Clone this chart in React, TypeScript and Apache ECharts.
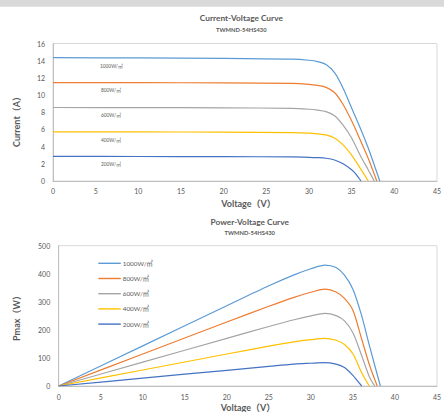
import React, { useEffect, useRef } from "react";
import * as echarts from "echarts";

// ---------- data ----------
const seriesNames = ["1000W/㎡", "800W/㎡", "600W/㎡", "400W/㎡", "200W/㎡"];
const seriesColors = ["#5B9BD5", "#ED7D31", "#A5A5A5", "#FFC000", "#4472C4"];

// Current-Voltage curves
const ivVoltage1000 = [0, 10, 20, 28, 30, 31, 32, 33, 34, 35, 36, 37, 38.3];
const ivCurrent1000 = [14.35, 14.32, 14.28, 14.18, 14.05, 13.9, 13.55, 12.6, 10.8, 8.5, 6.2, 3.7, 0];
const ivVoltage800 = [0, 10, 20, 28, 30, 31, 32, 33, 34, 35, 36, 37, 37.95];
const ivCurrent800 = [11.45, 11.44, 11.42, 11.35, 11.25, 11.12, 10.9, 10.3, 8.9, 7.0, 4.8, 2.5, 0];
const ivVoltage600 = [0, 10, 20, 28, 30, 31, 32, 33, 34, 35, 36, 37, 37.65];
const ivCurrent600 = [8.55, 8.54, 8.52, 8.45, 8.35, 8.25, 8.08, 7.6, 6.5, 5.0, 3.0, 1.2, 0];
const ivVoltage400 = [0, 10, 20, 28, 30, 31, 32, 33, 34, 35, 36, 36.96];
const ivCurrent400 = [5.72, 5.71, 5.69, 5.63, 5.56, 5.48, 5.36, 5.0, 4.2, 3.0, 1.5, 0];
const ivVoltage200 = [0, 10, 20, 28, 30, 31, 32, 33, 34, 35, 35.5, 36.1];
const ivCurrent200 = [2.86, 2.85, 2.84, 2.8, 2.76, 2.72, 2.65, 2.45, 2.0, 1.3, 0.8, 0];

// Power-Voltage curves
const pvVoltage1000 = [0, 10, 20, 25, 28, 30, 31.7, 33, 34, 35, 36, 37, 38.27];
const pvPower1000 = [0, 143, 286, 357, 396, 418, 431, 422, 395, 345, 255, 140, 0];
const pvVoltage800 = [0, 10, 20, 25, 28, 30, 31.7, 33, 34, 35, 36, 37, 37.9];
const pvPower800 = [0, 114, 228, 284, 316, 334, 345, 335, 312, 270, 172, 72, 0];
const pvVoltage600 = [0, 10, 20, 25, 28, 30, 31.7, 33, 34, 35, 36, 37, 37.6];
const pvPower600 = [0, 85, 170, 212, 236, 250, 259, 251, 232, 190, 112, 30, 0];
const pvVoltage400 = [0, 10, 20, 25, 28, 30, 31.7, 33, 34, 35, 36, 36.95];
const pvPower400 = [0, 57, 114, 142, 157, 165, 170, 163, 148, 115, 50, 0];
const pvVoltage200 = [0, 10, 20, 25, 28, 30, 31.5, 33, 34, 35, 35.5, 36.05];
const pvPower200 = [0, 28, 56, 70, 78, 81, 83, 78, 66, 38, 20, 0];

const ivVoltages = [ivVoltage1000, ivVoltage800, ivVoltage600, ivVoltage400, ivVoltage200];
const ivCurrents = [ivCurrent1000, ivCurrent800, ivCurrent600, ivCurrent400, ivCurrent200];
const pvVoltages = [pvVoltage1000, pvVoltage800, pvVoltage600, pvVoltage400, pvVoltage200];
const pvPowers = [pvPower1000, pvPower800, pvPower600, pvPower400, pvPower200];

const FONT = "Lato, 'Noto Sans CJK SC', sans-serif";
const TEXT = "#595959";

const pair = (xs: number[], ys: number[]) => xs.map((x, i) => [x, ys[i]]);

export default function App() {
  const ref = useRef<HTMLDivElement>(null);
  useEffect(() => {
    if (!ref.current) return;
    const chart = echarts.init(ref.current, undefined, { renderer: "svg" });

    const axisCommon = {
      axisTick: { show: false },
      splitLine: { show: false },
      axisLine: { show: true, lineStyle: { color: "#bfbfbf", width: 1 } },
      axisLabel: { color: TEXT, fontSize: 7, fontFamily: FONT },
    };

    const makeSeries = (xs: number[][], ys: number[][], axis: number) =>
      seriesNames.map((name, k) => ({
        name,
        type: "line",
        xAxisIndex: axis,
        yAxisIndex: axis,
        data: pair(xs[k], ys[k]),
        symbol: "none",
        smooth: 0.3,
        lineStyle: { color: seriesColors[k], width: 1.2 },
        itemStyle: { color: seriesColors[k] },
      }));

    const ivLabelY = [66, 90, 115, 140, 164];
    const ivLabelX = [100, 101, 101, 101, 101];

    const txt = (text: string, x: number, y: number, size: number, bold: boolean, rotation = 0) => ({
      type: "text",
      x,
      y,
      rotation,
      style: {
        text,
        fill: TEXT,
        font: `${bold ? "bold " : ""}${size}px ${FONT}`,
        align: "center",
        verticalAlign: "middle",
      },
    });

    chart.setOption({
      animation: false,
      backgroundColor: "#ffffff",
      grid: [
        { left: 53, top: 43.5, width: 388, height: 137.5, show: true, borderColor: "#d9d9d9", borderWidth: 1, containLabel: false },
        { left: 58.7, top: 245.7, width: 382.3, height: 140.3, show: true, borderColor: "#d9d9d9", borderWidth: 1, containLabel: false },
      ],
      xAxis: [
        { type: "value", gridIndex: 0, min: 0, max: 45, interval: 5, ...axisCommon, axisLabel: { ...axisCommon.axisLabel, margin: 6 } },
        { type: "value", gridIndex: 1, min: 0, max: 45, interval: 5, ...axisCommon, axisLabel: { ...axisCommon.axisLabel, margin: 7.5 } },
      ],
      yAxis: [
        { type: "value", gridIndex: 0, min: 0, max: 16, interval: 2, ...axisCommon, axisLabel: { ...axisCommon.axisLabel, margin: 8 } },
        { type: "value", gridIndex: 1, min: 0, max: 500, interval: 100, ...axisCommon, axisLabel: { ...axisCommon.axisLabel, margin: 8.5 } },
      ],
      legend: {
        show: true,
        orient: "vertical",
        left: 98.3,
        top: 259.8,
        icon: "rect",
        itemWidth: 22.5,
        itemHeight: 1.4,
        itemGap: 8.2,
        padding: 0,
        data: seriesNames,
        textStyle: { color: TEXT, fontSize: 6.3, fontFamily: FONT, lineHeight: 7, padding: [0, 0, 0, -3] },
      },
      series: [...makeSeries(ivVoltages, ivCurrents, 0), ...makeSeries(pvVoltages, pvPowers, 1)],
      graphic: [
        { type: "rect", shape: { x: 0, y: 0, width: 444, height: 6.7 }, style: { fill: "#d9d9d9" }, silent: true },
        txt("Current-Voltage Curve", 241.3, 18, 8.3, true),
        txt("TWMND-54HS430", 241.3, 29.3, 5.8, true),
        txt("Current（A）", 16, 119.5, 9, true, Math.PI / 2),
        txt("Voltage（V）", 248.5, 203, 9, true),
        txt("Power-Voltage Curve", 249.7, 221.7, 8.3, true),
        txt("TWMND-54HS430", 249.7, 232.7, 5.8, true),
        txt("Pmax（W）", 16, 316, 9, true, Math.PI / 2),
        txt("Voltage（V）", 248, 407, 9, true),
        ...seriesNames.map((name, k) => ({
          type: "text",
          x: ivLabelX[k],
          y: ivLabelY[k],
          style: { text: name, fill: TEXT, font: `4.8px ${FONT}`, align: "left", verticalAlign: "middle" },
        })),
      ],
    });

    return () => chart.dispose();
  }, []);

  return (
    <div
      ref={ref}
      style={{ position: "absolute", left: 0, top: 0, width: 444, height: 412, overflow: "hidden", background: "#fff" }}
    />
  );
}
